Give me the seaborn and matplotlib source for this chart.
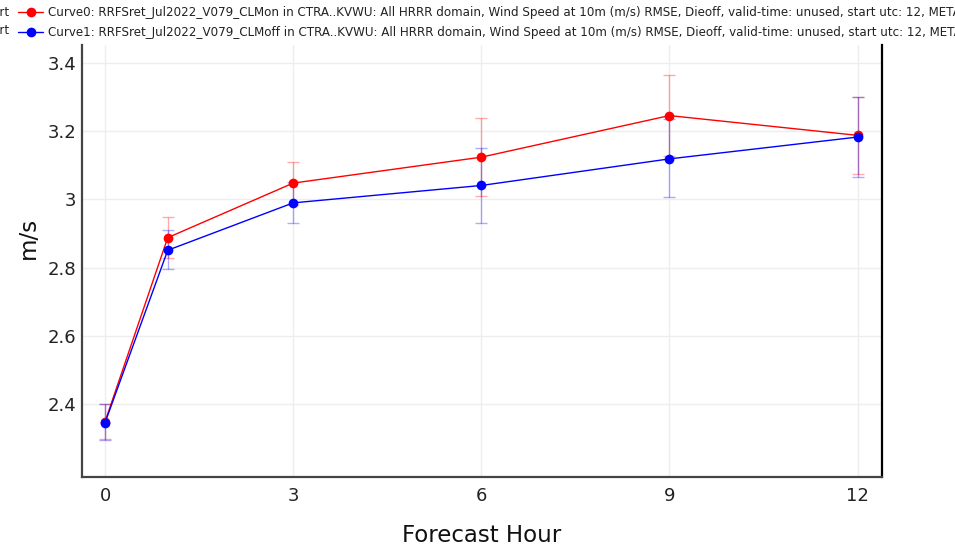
import numpy as np
import pandas as pd
import matplotlib
matplotlib.use("Agg")
import matplotlib.pyplot as plt
import seaborn as sns

# ---- data ----
hours = [0, 1, 3, 6, 9, 12]
curve0_label = ("Curve0: RRFSret_Jul2022_V079_CLMon in CTRA..KVWU: All HRRR domain, Wind Speed at 10m (m/s) "
                "RMSE, Dieoff, valid-time: unused, start utc: 12, METAR")
curve1_label = ("Curve1: RRFSret_Jul2022_V079_CLMoff in CTRA..KVWU: All HRRR domain, Wind Speed at 10m (m/s) "
                "RMSE, Dieoff, valid-time: unused, start utc: 12, METAR")
curve0_vals = [2.348, 2.888, 3.048, 3.124, 3.246, 3.188]
curve1_vals = [2.345, 2.851, 2.990, 3.041, 3.119, 3.183]
curve0_lo = [2.297, 2.827, 2.985, 3.010, 3.128, 3.074]
curve0_hi = [2.399, 2.948, 3.111, 3.238, 3.364, 3.301]
curve1_lo = [2.294, 2.795, 2.930, 2.932, 3.007, 3.065]
curve1_hi = [2.400, 2.909, 3.050, 3.150, 3.235, 3.300]
x_ticks = [0, 3, 6, 9, 12]
y_ticks = [2.4, 2.6, 2.8, 3.0, 3.2, 3.4]
y_ticklabels = ["2.4", "2.6", "2.8", "3", "3.2", "3.4"]

df = pd.DataFrame({
    "hour": hours * 2,
    "value": curve0_vals + curve1_vals,
    "curve": [curve0_label] * len(hours) + [curve1_label] * len(hours),
})

sns.set_theme(style="white")
plt.rcParams["font.family"] = ["DejaVu Sans"]

fig = plt.figure(figsize=(9.55, 5.48), dpi=100)
ax = fig.add_axes([82 / 955, 1 - 477 / 548, 800 / 955, 432 / 548])

red = "#ff0000"
blue = "#0000ff"

# error bars
for vals, lo, hi, col in [(curve0_vals, curve0_lo, curve0_hi, red),
                          (curve1_vals, curve1_lo, curve1_hi, blue)]:
    v = np.array(vals)
    yerr = np.vstack([v - np.array(lo), np.array(hi) - v])
    ax.errorbar(hours, v, yerr=yerr, fmt="none", ecolor=col, alpha=0.33,
                elinewidth=1, capsize=4, capthick=1, zorder=2)

sns.lineplot(data=df, x="hour", y="value", hue="curve",
             palette={curve0_label: red, curve1_label: blue},
             marker="o", markersize=7, markeredgewidth=0, linewidth=1,
             sort=False, ax=ax, zorder=3, legend=True)

ax.set_xlim(-0.367, 12.39)
ax.set_ylim(2.186, 3.453)
ax.set_xticks(x_ticks)
ax.set_xticklabels([str(t) for t in x_ticks])
ax.set_yticks(y_ticks)
ax.set_yticklabels(y_ticklabels)
ax.tick_params(axis="both", length=0, labelsize=13, colors="#222222")
ax.tick_params(axis="x", pad=7)
ax.tick_params(axis="y", pad=4)
ax.grid(True, color="#eeeeee", linewidth=1)
ax.set_axisbelow(True)

ax.set_xlabel("Forecast Hour", fontsize=16.5, color="#111111", labelpad=14)
ax.set_ylabel("m/s", fontsize=16.5, color="#111111")
ax.yaxis.set_label_coords((40 - 82) / 800, (477 - 238) / 432)

ax.spines["top"].set_visible(False)
ax.spines["left"].set_color("#444444")
ax.spines["bottom"].set_color("#444444")
ax.spines["right"].set_color("#000000")
for side in ["left", "bottom", "right"]:
    ax.spines[side].set_linewidth(1.6)

# legend at top, running off the figure
handles, labels = ax.get_legend_handles_labels()
ax.get_legend().remove()
leg = fig.legend(handles, labels, loc="upper left",
                 bbox_to_anchor=(15 / 955, 1 - 3 / 548),
                 frameon=False, fontsize=8.6, handlelength=2.1,
                 handletextpad=0.45, labelspacing=0.62, borderaxespad=0,
                 borderpad=0.25)
for t in leg.get_texts():
    t.set_color("#222222")

# cropped left fragments
for yy in [12, 31]:
    fig.text(9 / 955, 1 - yy / 548, "start", ha="right", va="center",
             fontsize=8.6, color="#222222")

fig.savefig("out.png", dpi=100)
